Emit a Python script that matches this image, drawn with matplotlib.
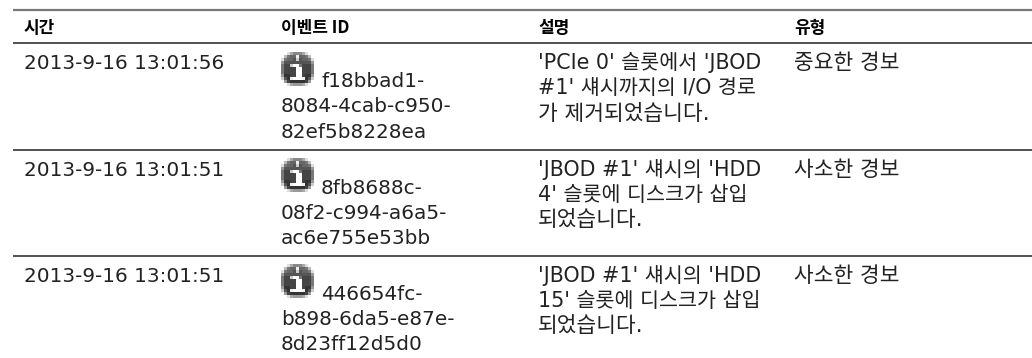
import numpy as np
from matplotlib import pyplot as plt

plt.rcParams['font.family'] = ['DejaVu Sans', 'Noto Sans CJK KR']

headers = ['시간', '이벤트 ID', '설명', '유형']
times = ['2013-9-16 13:01:56', '2013-9-16 13:01:51', '2013-9-16 13:01:51']
event_ids = [['f18bbad1-', '8084-4cab-c950-', '82ef5b8228ea'],
             ['8fb8688c-', '08f2-c994-a6a5-', 'ac6e755e53bb'],
             ['446654fc-', 'b898-6da5-e87e-', '8d23ff12d5d0']]
descriptions = [["'PCIe 0' 슬롯에서 'JBOD", "#1' 섀시까지의 I/O 경로", '가 제거되었습니다.'],
                ["'JBOD #1' 섀시의 'HDD", "4' 슬롯에 디스크가 삽입", '되었습니다.'],
                ["'JBOD #1' 섀시의 'HDD", "15' 슬롯에 디스크가 삽입", '되었습니다.']]
types = ['중요한 경보', '사소한 경보', '사소한 경보']

col_x = [24, 281, 538, 794]
row_lines = [43, 149.5, 255.5]
FS = 20 * 0.72
FS_MIXED = 20.7 * 0.72
FS_KOR = 21.4 * 0.72
TXT = '#222222'

# info icon, grey levels in hex
icon_rows = ['ffda888adff',
             'fb766e667bf',
             'd7665c5667d',
             '95555555559',
             '744cff74447',
             '74444ff4447',
             '74444ff4447',
             '93344ff4339',
             'c53efffe35c',
             'f943333349f',
             'ffda999adff']
icon = np.array([[int(c, 16) / 15 for c in r] for r in icon_rows])

fig = plt.figure(figsize=(10.32, 3.58), dpi=100)
ax = fig.add_axes([0, 0, 1, 1])
ax.axis('off')

# rules
ax.plot([13, 1032], [9.5, 9.5], color='#777777', lw=1.6, solid_capstyle='butt')
for y in row_lines:
    ax.plot([13, 1032], [y, y], color='#222222', lw=1.1, solid_capstyle='butt')

for x, h in zip(col_x, headers):
    ax.text(x, 33, h, fontsize=17 * 0.72, fontweight='bold', color='black', va='baseline',
            family=['Noto Sans CJK KR', 'DejaVu Sans'])

for i in range(3):
    top = row_lines[i]
    ax.text(col_x[0], top + 26, times[i], fontsize=FS, color=TXT, va='baseline')
    ax.imshow(icon, cmap='gray', vmin=0, vmax=1, interpolation='nearest', aspect='auto',
              extent=[281, 314, top + 43, top + 9], zorder=2)
    ax.text(col_x[1] + 40, top + 44, event_ids[i][0], fontsize=FS, color=TXT, va='baseline')
    ax.text(col_x[1], top + 69.5, event_ids[i][1], fontsize=FS, color=TXT, va='baseline')
    ax.text(col_x[1], top + 95, event_ids[i][2], fontsize=FS, color=TXT, va='baseline')
    for j, line in enumerate(descriptions[i]):
        size = FS_KOR if j == 2 else FS_MIXED
        ax.text(col_x[2], top + 26 + j * 25.5, line, fontsize=size, color=TXT, va='baseline')
    ax.text(col_x[3], top + 26, types[i], fontsize=FS_KOR, color=TXT, va='baseline')

ax.set_xlim(0, 1032)
ax.set_ylim(358, 0)
fig.savefig('out.png', dpi=100)
